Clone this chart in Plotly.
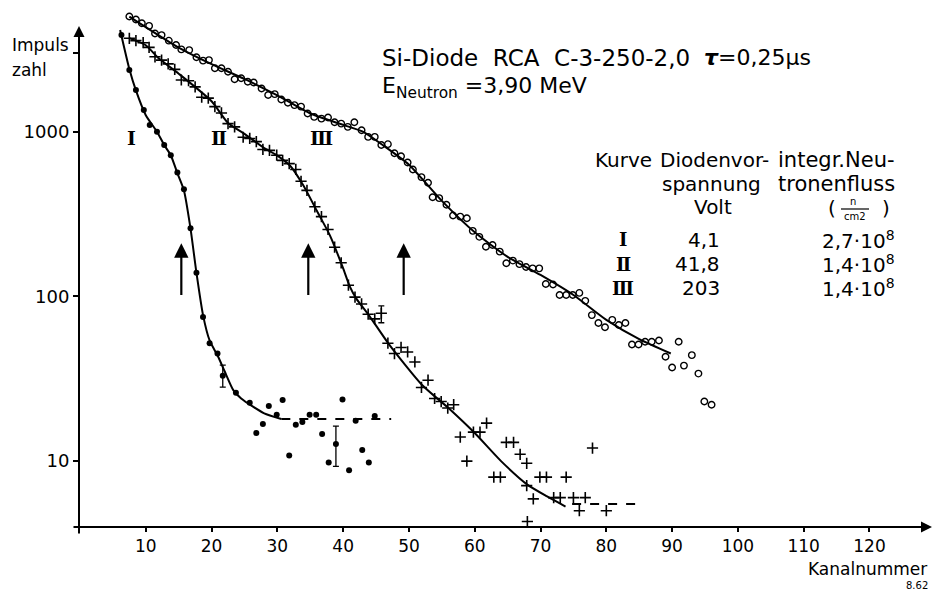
import math
import plotly.graph_objects as go

# ---------------- data ----------------
# Curve I  (filled dots, 4.1 V)
x_I = [6.3, 7.5, 8.5, 9.7, 10.6, 11.7, 12.8, 13.8, 14.8, 15.8, 16.8, 17.7, 18.7, 19.7, 20.9,
       23.7, 25.8, 26.8, 27.8, 28.7, 29.9, 30.8, 31.8, 32.8, 33.8, 34.9, 35.9, 36.8, 37.8,
       39.9, 40.9, 41.9, 42.9, 43.9, 44.8]
y_I = [3860, 2370, 1790, 1355, 1100, 1000, 830, 720, 565, 447, 259, 139, 75, 52, 45,
       26, 22.6, 14.8, 16.8, 21.6, 19.1, 23.5, 10.8, 16.6, 17.3, 19.1, 19.1, 14.6, 9.8,
       23.7, 8.8, 17.6, 11.7, 9.8, 18.8]
fit_x_I = [6.1, 7.5, 8.5, 10.0, 11.7, 12.8, 13.8, 14.8, 15.8, 16.8, 17.7, 18.7, 19.7, 21.0,
           22.0, 23.3, 24.5, 26.3, 28.0, 30.6]
fit_y_I = [4140, 2400, 1780, 1260, 1000, 830, 720, 560, 440, 258, 139, 77, 54, 43,
           35, 27, 24, 21.4, 19.5, 18]
tail_x_I = [30.6, 47.3]
tail_y_I = [18, 18]
err_x_I = [21.7, 38.9]
err_y_I = [33, 12.7]
err_plus_I = [5.3, 3.6]
err_minus_I = [4.9, 3.4]

# Curve II  (crosses, 41.8 V)
x_II = [7.5, 8.5, 9.6, 10.5, 11.4, 12.4, 13.4, 14.4, 15.4, 16.5, 17.5, 18.5, 19.5, 20.5,
        21.5, 22.5, 23.5, 24.8, 25.8, 26.8, 27.8, 28.8, 29.9, 30.8, 31.8, 32.8, 33.6, 34.5,
        35.7, 36.7, 37.7, 38.7, 39.7, 40.8, 41.8, 42.8, 43.8, 44.8, 46.8, 47.8, 48.8, 49.8,
        50.9, 51.9, 52.9, 53.9, 54.9, 55.9, 56.8, 57.8, 58.8, 59.8, 60.8, 61.8, 62.9, 63.9,
        64.8, 65.9, 66.9, 67.9, 67.9, 68.0, 68.9, 69.9, 70.9, 72.0, 73.0, 73.9, 75.0, 75.9,
        76.8, 77.9, 80.0]
y_II = [3690, 3570, 3470, 3250, 2850, 2720, 2580, 2390, 2060, 2040, 1870, 1620, 1600, 1420,
        1300, 1120, 1070, 925, 910, 870, 780, 770, 720, 670, 640, 590, 500, 440,
        350, 305, 255, 199, 160, 117, 99, 90, 78, 73, 52, 45, 49, 46,
        40, 28, 31, 24, 23, 21, 22, 14, 10, 15, 15, 17, 8, 8,
        13, 13, 11, 9.7, 7.1, 4.3, 5.9, 8, 8, 6, 6, 8, 6, 5,
        6, 12, 5]
fit_x_II = [7.5, 10.0, 12.0, 15.0, 20.0, 22.5, 25.0, 28.0, 30.0, 32.0, 34.0, 36.0, 38.0,
            40.0, 41.0, 42.0, 44.0, 47.0, 52.0, 56.0, 60.0, 64.0, 68.0, 71.0, 73.8]
fit_y_II = [3700, 3350, 2780, 2250, 1530, 1130, 970, 795, 716, 617, 468, 331, 234,
            148, 115, 97, 76, 51, 29, 21, 14.8, 10, 7.2, 6.1, 5.3]
tail_x_II = [74.8, 85.5]
tail_y_II = [5.5, 5.5]
err_x_II = [45.8]
err_y_II = [79]
err_plus_II = [8.5]
err_minus_II = [9.8]

# Curve III  (open circles, 203 V)
x_III = [7.5, 8.5, 9.4, 10.5, 11.4, 12.4, 13.5, 14.6, 15.4, 16.6, 17.7, 18.7, 19.6, 20.5,
         21.5, 22.5, 23.5, 24.5, 25.5, 26.4, 27.6, 28.6, 29.6, 30.6, 31.6, 32.6, 33.6, 34.6,
         35.6, 36.7, 37.7, 38.7, 39.7, 40.7, 41.7, 42.8, 43.8, 44.8, 45.8, 46.8, 47.8, 48.8,
         49.8, 50.6, 51.9, 52.9, 53.6, 54.6, 55.7, 56.7, 57.8, 58.8, 59.7, 60.7, 61.7, 62.7,
         63.8, 64.8, 65.8, 66.8, 67.8, 68.8, 69.8, 70.8, 71.9, 72.9, 73.9, 74.9, 75.9, 76.8,
         77.8, 78.8, 79.8, 80.9, 81.9, 82.9, 83.9, 84.9, 85.9, 86.9, 88.0, 89.0, 90.0, 91.0,
         91.8, 93.0, 94.0, 94.9, 96.0]
y_III = [5000, 4800, 4550, 4390, 3950, 3860, 3570, 3360, 3160, 3130, 2830, 2700, 2720, 2430,
         2430, 2310, 2080, 2110, 2010, 1990, 1830, 1670, 1690, 1570, 1500, 1450, 1420, 1290,
         1230, 1200, 1220, 1140, 1120, 1070, 1140, 1020, 930, 930, 830, 840, 740, 710,
         650, 590, 530, 490, 400, 395, 360, 310, 305, 298, 250, 230, 200, 205,
         187, 159, 165, 157, 151, 148, 148, 119, 118, 102, 102, 102, 105, 94,
         77, 69, 65, 72, 67, 69, 51, 51, 53, 53, 54, 43, 37, 53,
         38, 44, 34, 23, 22]
fit_x_III = [7.5, 15.0, 20.0, 25.0, 30.0, 35.0, 40.0, 43.0, 46.0, 50.0, 55.0, 60.0, 65.0,
             70.0, 75.0, 80.0, 85.0, 89.8]
fit_y_III = [5000, 3240, 2570, 2090, 1660, 1290, 1100, 1000, 830, 630, 380, 245, 174,
             135, 102, 72, 55, 45]

# vertical arrows (channel, from, to)
arrow_x = [15.4, 34.7, 49.2]
arrow_from = 100
arrow_to = 210

curve_names = ["Ⅰ", "Ⅱ", "Ⅲ"]
curve_label_x = [7.9, 21.1, 36.7]
curve_label_y = 915
bias_volt = ["4,1", "41,8", "203"]
flux = ["2,7·10<sup>8</sup>", "1,4·10<sup>8</sup>", "1,4·10<sup>8</sup>"]

x_ticks = [10, 20, 30, 40, 50, 60, 70, 80, 90, 100, 110, 120]
y_ticks = [10, 100, 1000, 3000]
y_ticktext = ["10", "100", "1000", ""]

# ---------------- layout helpers ----------------
W, H = 940, 590
OFF = 8  # page body margin of the browser
L, R, T, B = 80 - OFF, 18, 0, 590 - (527 - OFF)
FONT = "DejaVu Sans"
SERIF = "DejaVu Serif"


def px(x):
    return (x - OFF - L) / (W - L - R)


def py(y):
    return (H - B - (y - OFF)) / (H - T - B)


fig = go.Figure()

line_style = dict(color="black", width=2, shape="spline", smoothing=0.6)

fig.add_trace(go.Scatter(x=fit_x_III, y=fit_y_III, mode="lines", line=line_style))
fig.add_trace(go.Scatter(x=fit_x_II, y=fit_y_II, mode="lines", line=line_style))
fig.add_trace(go.Scatter(x=fit_x_I, y=fit_y_I, mode="lines", line=line_style))
fig.add_trace(go.Scatter(x=tail_x_I, y=tail_y_I, mode="lines",
                         line=dict(color="black", width=2, dash="dash")))
fig.add_trace(go.Scatter(x=tail_x_II, y=tail_y_II, mode="lines",
                         line=dict(color="black", width=2, dash="dash")))

fig.add_trace(go.Scatter(x=x_III, y=y_III, mode="markers",
                         marker=dict(symbol="circle-open", size=6.5, color="black",
                                     line=dict(width=1.4, color="black"))))
fig.add_trace(go.Scatter(x=x_II, y=y_II, mode="markers",
                         marker=dict(symbol="cross-thin", size=8, color="black",
                                     line=dict(width=1.6, color="black"))))
fig.add_trace(go.Scatter(x=x_I, y=y_I, mode="markers",
                         marker=dict(symbol="circle", size=6, color="black")))

fig.add_trace(go.Scatter(x=err_x_I, y=err_y_I, mode="markers",
                         marker=dict(symbol="circle", size=6, color="black"),
                         error_y=dict(type="data", array=err_plus_I, arrayminus=err_minus_I,
                                      color="black", thickness=1.3, width=3)))
fig.add_trace(go.Scatter(x=err_x_II, y=err_y_II, mode="markers",
                         marker=dict(symbol="cross-thin", size=8, color="black",
                                     line=dict(width=1.6, color="black")),
                         error_y=dict(type="data", array=err_plus_II, arrayminus=err_minus_II,
                                      color="black", thickness=1.3, width=3)))

ann = []
# vertical arrows in the plot
for ax_ in arrow_x:
    ann.append(dict(x=ax_, y=math.log10(arrow_to), ax=ax_, ay=math.log10(arrow_from),
                    xref="x", yref="y", axref="x", ayref="y", text="", showarrow=True,
                    arrowhead=2, arrowsize=1.3, arrowwidth=2.2, arrowcolor="black"))
# curve labels
for name, lx in zip(curve_names, curve_label_x):
    ann.append(dict(x=lx, y=math.log10(curve_label_y), xref="x", yref="y",
                    text="<b>" + name + "</b>", showarrow=False,
                    font=dict(family=SERIF, size=19, color="black")))

# axes with arrows
ann.append(dict(x=px(932), y=py(527), xref="paper", yref="paper", ax=-(932 - 72), ay=0,
                text="", showarrow=True, arrowhead=2, arrowsize=1.1, arrowwidth=2,
                arrowcolor="black"))
ann.append(dict(x=px(79), y=py(26), xref="paper", yref="paper", ax=0, ay=535 - 26,
                text="", showarrow=True, arrowhead=2, arrowsize=1.1, arrowwidth=2,
                arrowcolor="black"))


def txt(x, y, s, size=20, anchor="left", family=FONT):
    ann.append(dict(x=px(x), y=py(y), xref="paper", yref="paper", text=s, showarrow=False,
                    xanchor=anchor, yanchor="middle",
                    font=dict(family=family, size=size, color="black")))


txt(10, 45, "Impuls", 17)
txt(10, 70, "zahl", 17)
txt(929, 569, "Kanalnummer", 17, "right")
txt(930, 585, "8.62", 10, "right")

txt(380, 58, "Si-Diode  RCA  C-3-250-2,0", 23)
txt(702, 58, "<b><i>τ</i></b>=0,25µs", 22)
txt(380, 88, "E<sub>Neutron</sub> =3,90 MeV", 22)

txt(593, 160, "Kurve", 20)
txt(658, 160, "Diodenvor-", 20)
txt(660, 184, "spannung", 20)
txt(692, 207, "Volt", 20)
txt(776, 160, "integr.Neu-", 21)
txt(776, 184, "tronenfluss", 21)
txt(826, 208, "(", 20)
txt(880, 208, ")", 20)
txt(853, 202, "n", 10, "center")
txt(855, 216, "cm2", 10, "center")

rows_y = [240, 264, 288]
for name, v, f, ry in zip(curve_names, bias_volt, flux, rows_y):
    txt(623, ry, "<b>" + name + "</b>", 18, "center", SERIF)
    txt(722, ry, v, 20, "right")
    txt(820, ry, f, 20)

shapes = [dict(type="line", xref="paper", yref="paper", x0=px(841), x1=px(869),
               y0=py(209), y1=py(209), line=dict(color="black", width=1.2))]

fig.update_layout(
    width=W, height=H,
    margin=dict(l=L, r=R, t=T, b=B),
    paper_bgcolor="white", plot_bgcolor="white",
    showlegend=False,
    annotations=ann,
    shapes=shapes,
    xaxis=dict(range=[0, 129.2], tickvals=x_ticks, ticks="outside", ticklen=4,
               tickwidth=1.5, tickcolor="black", showgrid=False, zeroline=False,
               showline=False, tickfont=dict(family=FONT, size=17, color="black")),
    yaxis=dict(type="log", range=[0.600, 3.751], tickvals=y_ticks, ticktext=y_ticktext,
               ticks="outside", ticklen=6, tickwidth=1.5, tickcolor="black",
               showgrid=False, zeroline=False, showline=False,
               tickfont=dict(family=FONT, size=18, color="black")),
)

fig.write_html("out.html")
